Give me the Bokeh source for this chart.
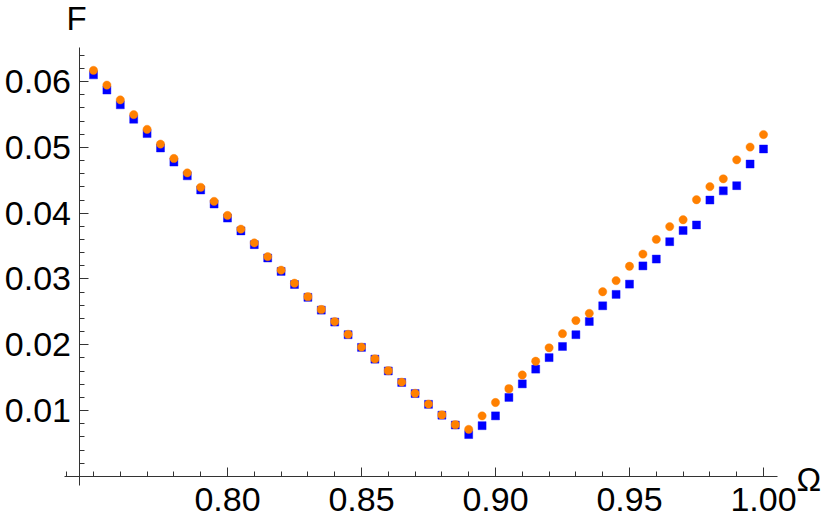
from bokeh.plotting import figure
from bokeh.models import (Range1d, LinearAxis, FixedTicker, NumeralTickFormatter,
                          Label, ColumnDataSource)
from bokeh.embed import file_html
from bokeh.resources import INLINE

omega = [0.750, 0.755, 0.760, 0.765, 0.770, 0.775, 0.780, 0.785, 0.790, 0.795,
         0.800, 0.805, 0.810, 0.815, 0.820, 0.825, 0.830, 0.835, 0.840, 0.845,
         0.850, 0.855, 0.860, 0.865, 0.870, 0.875, 0.880, 0.885, 0.890, 0.895,
         0.900, 0.905, 0.910, 0.915, 0.920, 0.925, 0.930, 0.935, 0.940, 0.945,
         0.950, 0.955, 0.960, 0.965, 0.970, 0.975, 0.980, 0.985, 0.990, 0.995,
         1.000]

f_orange = [0.06169, 0.05945, 0.05721, 0.05497, 0.05273, 0.05049, 0.04831, 0.04612, 0.04393, 0.04179,
            0.03966, 0.03757, 0.03548, 0.03339, 0.03134, 0.02936, 0.02731, 0.02537, 0.02354, 0.02160,
            0.01966, 0.01787, 0.01607, 0.01433, 0.01264, 0.01100, 0.00936, 0.00787, 0.00716, 0.00921,
            0.01124, 0.01333, 0.01542, 0.01751, 0.01955, 0.02169, 0.02369, 0.02478, 0.02806, 0.02975,
            0.03194, 0.03378, 0.03601, 0.03796, 0.03900, 0.04204, 0.04403, 0.04522, 0.04810, 0.05004,
            0.05194]

f_blue = [0.06101, 0.05870, 0.05646, 0.05427, 0.05209, 0.04990, 0.04776, 0.04567, 0.04352, 0.04139,
          0.03925, 0.03731, 0.03522, 0.03319, 0.03115, 0.02916, 0.02721, 0.02527, 0.02346, 0.02154,
          0.01961, 0.01782, 0.01603, 0.01428, 0.01260, 0.01096, 0.00931, 0.00782, 0.00637, 0.00772,
          0.00921, 0.01201, 0.01407, 0.01631, 0.01806, 0.01975, 0.02154, 0.02354, 0.02593, 0.02766,
          0.02922, 0.03199, 0.03303, 0.03567, 0.03736, 0.03821, 0.04199, 0.04339, 0.04418, 0.04746,
          0.04975]

x_major = [0.80, 0.85, 0.90, 0.95, 1.00]
x_minor = [0.74, 0.75, 0.76, 0.77, 0.78, 0.79, 0.81, 0.82, 0.83, 0.84, 0.86, 0.87, 0.88, 0.89,
           0.91, 0.92, 0.93, 0.94, 0.96, 0.97, 0.98, 0.99]
y_major = [0.01, 0.02, 0.03, 0.04, 0.05, 0.06]
y_minor = [0.002, 0.004, 0.006, 0.008, 0.012, 0.014, 0.016, 0.018, 0.022, 0.024, 0.026, 0.028,
           0.032, 0.034, 0.036, 0.038, 0.042, 0.044, 0.046, 0.048, 0.052, 0.054, 0.056, 0.058,
           0.062, 0.064]

x_label = "Ω"
y_label = "F"

W, H = 822, 518
p = figure(width=W, height=H, output_backend="svg", toolbar_location=None,
           x_range=Range1d(0.715299, 1.022015), y_range=Range1d(-0.00638, 0.072304),
           x_axis_location=None, y_axis_location=None, min_border=0)
p.outline_line_color = None
p.xgrid.visible = False
p.ygrid.visible = False
p.background_fill_color = "white"
p.border_fill_color = "white"

AX = "#333333"
FONT = "Liberation Sans"

xaxis = LinearAxis(fixed_location=0.0, bounds=(0.739, 1.0052),
                   ticker=FixedTicker(ticks=x_major, minor_ticks=x_minor),
                   formatter=NumeralTickFormatter(format="0.00"))
yaxis = LinearAxis(fixed_location=0.7446, bounds=(-0.0013, 0.0651),
                   ticker=FixedTicker(ticks=y_major, minor_ticks=y_minor),
                   formatter=NumeralTickFormatter(format="0.00"))
for ax in (xaxis, yaxis):
    ax.axis_line_color = AX
    ax.axis_line_width = 1
    ax.major_tick_line_color = AX
    ax.minor_tick_line_color = AX
    ax.major_tick_in = 9
    ax.major_tick_out = 0
    ax.minor_tick_in = 5
    ax.minor_tick_out = 0
    ax.major_label_text_font = FONT
    ax.major_label_text_font_size = "34px"
    ax.major_label_text_color = "black"
xaxis.major_label_standoff = 12
yaxis.major_label_standoff = 8
p.add_layout(xaxis, "below")
p.add_layout(yaxis, "left")

src = ColumnDataSource(dict(x=omega, b=f_blue, o=f_orange))
p.scatter("x", "b", source=src, marker="square", size=8,
          fill_color="#0000FF", line_color="#0000FF", line_alpha=0.5, line_width=0.8)
p.scatter("x", "o", source=src, marker="circle", size=8.3,
          fill_color="#FF8000", line_color="#FF8000", line_alpha=0.5, line_width=0.8)

p.add_layout(Label(x=66, y=H - 18, x_units="screen", y_units="screen", text=y_label,
                   text_font=FONT, text_font_size="33px", text_align="left",
                   text_baseline="middle", text_color="black"))
p.add_layout(Label(x=796, y=H - 479, x_units="screen", y_units="screen", text=x_label,
                   text_font=FONT, text_font_size="33px", text_align="left",
                   text_baseline="middle", text_color="black"))

open("out.html", "w").write(file_html(p, INLINE))
